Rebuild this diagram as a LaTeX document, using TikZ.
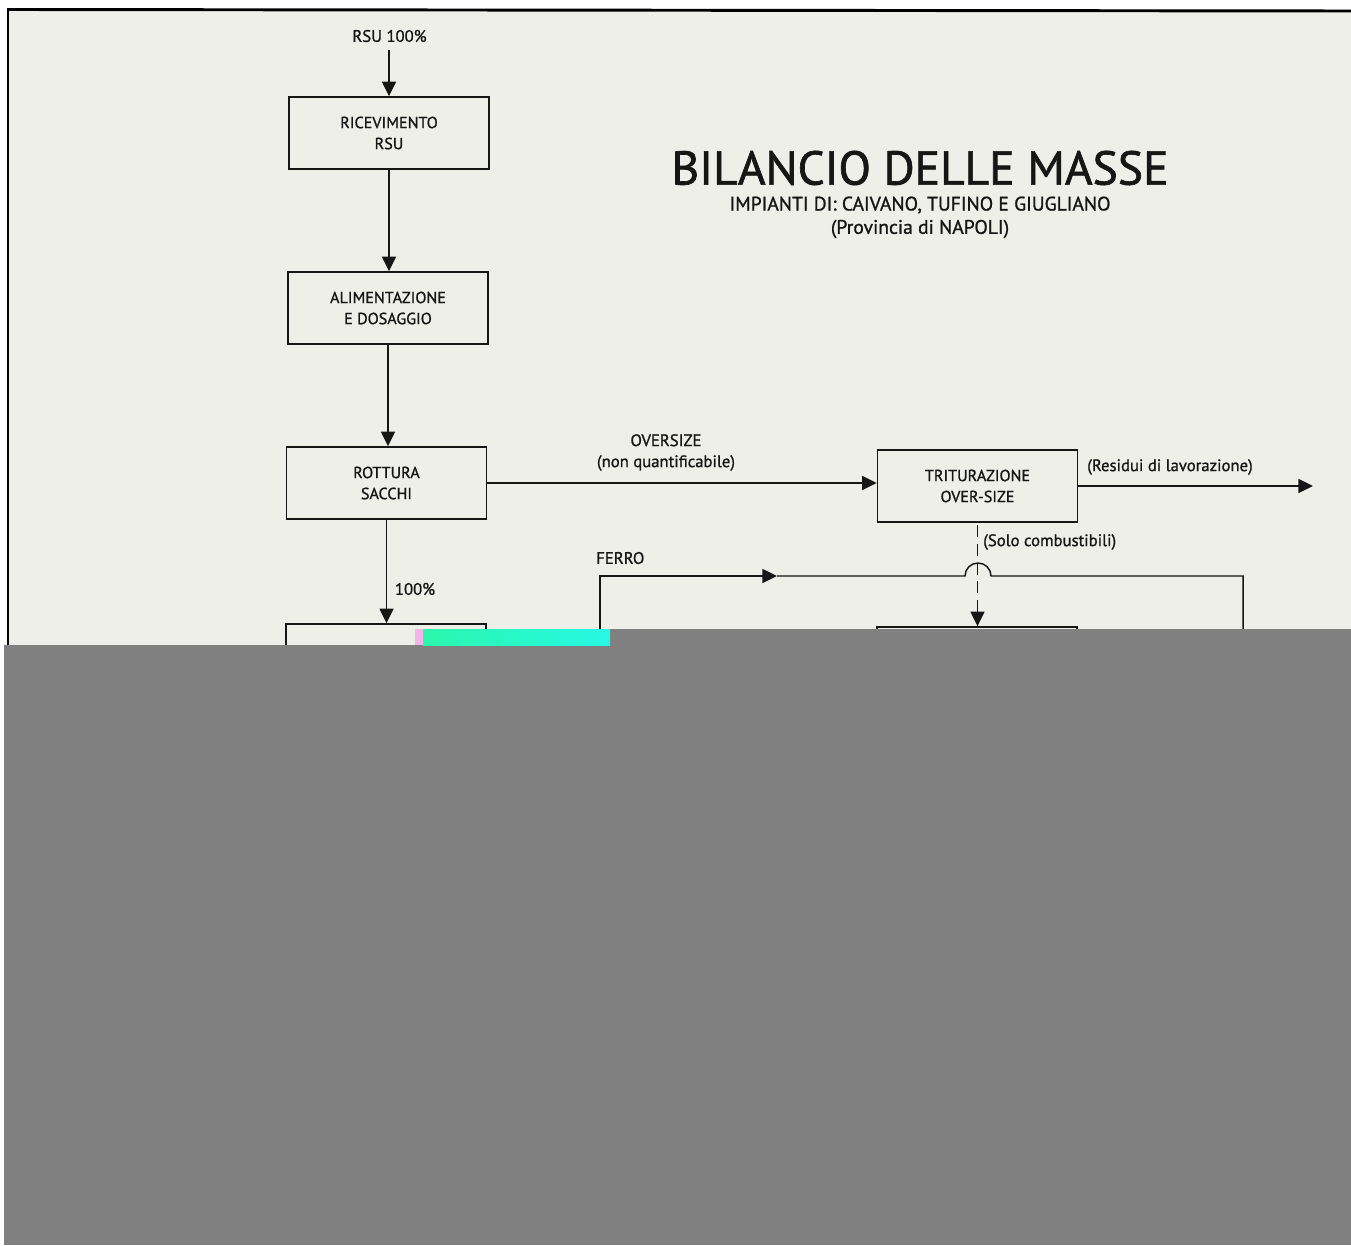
\documentclass[tikz,border=0pt]{standalone}
\usepackage{fontspec}
\setmainfont{PT Sans}
\newfontfamily\fb{PT Sans}[FakeBold=1.1]
\newfontfamily\fbt{PT Sans}[FakeBold=1.4]
\usetikzlibrary{arrows.meta}
\definecolor{paper}{HTML}{EFEFEA}
\definecolor{ink}{HTML}{161616}
\definecolor{mask}{HTML}{808080}
\definecolor{aqua}{HTML}{36F5D8}
\definecolor{pinkish}{HTML}{F4B4E8}
\begin{document}
\begin{tikzpicture}[x=0.75pt,y=-0.75pt,
  every node/.style={text=ink},
  box/.style={draw=ink, line width=1.1pt, minimum width=150pt, minimum height=54pt,
    align=center, inner sep=0pt, font=\fb\fontsize{12.1}{15.75}\selectfont},
  lbl/.style={inner sep=0pt, align=center, font=\fb\fontsize{12.5}{15.75}\selectfont},
  conn/.style={draw=ink, line width=1.1pt},
  arr/.style={conn, -{Triangle[length=11pt,width=10.5pt]}},
]
\useasboundingbox (0,0) rectangle (1351,1245);
% paper
\fill[white] (0,0) rectangle (1351,1245);
\fill[paper] (7,9) rectangle (1351,1245);
\draw[black, line width=2.2pt] (7,9.5) -- (1351,11);
\draw[black, line width=1.8pt] (8,8) -- (8,646);

% title
\node[lbl, font=\fbt\fontsize{35.6}{40}\selectfont] (title) at (920,168) {BILANCIO DELLE MASSE};
\node[lbl, font=\fb\fontsize{14.7}{16}\selectfont] (sub1) at (920,205) {IMPIANTI DI: CAIVANO, TUFINO E GIUGLIANO};
\node[lbl, font=\fb\fontsize{14.7}{16}\selectfont] (sub2) at (920,229) {(Provincia di NAPOLI)};

% nodes
\node[lbl] (in) at (389.5,36) {RSU 100\%};
\node[box] (r1) at (389,133) {RICEVIMENTO\\RSU};
\node[box] (r2) at (388,308) {ALIMENTAZIONE\\E DOSAGGIO};
\node[box] (r3) at (386.5,483) {ROTTURA\\SACCHI};
\node[box] (tr) at (977.5,486) {TRITURAZIONE\\OVER-SIZE};
\node[box] (r4) at (386,660) {};
\node[box] (r5) at (977,663) {};

% labels
\node[lbl] (ovs) at (666,452.5) {OVERSIZE\\(non quantificabile)};
\node[lbl, anchor=west] (res) at (1087,467) {(Residui di lavorazione)};
\node[lbl, anchor=west] (solo) at (983,542) {(Solo combustibili)};
\node[lbl] (cent) at (415,589) {100\%};
\node[lbl, anchor=west] (fer) at (596,558) {FERRO};

% connectors
\draw[arr] (in.south -| r1.north) ++(0,8) -- (r1.north);
\draw[arr] (r1.south) -- (r1.south |- r2.north);
\draw[arr] (r2.south) -- (r2.south |- r3.north);
\draw[arr] (r3.south) -- (r3.south |- r4.north);
\draw[arr] (r3.east) -- (r3.east -| tr.west);
\coordinate (out) at (1313,487);
\draw[arr] (tr.east) -- (tr.east -| out);
\draw[arr, dash pattern=on 9pt off 5pt, dash phase=-2pt] (tr.south) -- (tr.south |- r5.north);

% FERRO loop with hop
\coordinate (f0) at (600,660);
\coordinate (fa) at (777,576);
\coordinate (f1) at (1243,660);
\draw[arr] (f0) |- (fa);
\draw[conn] (fa) -- (965,576) arc[start angle=180, end angle=0, radius=9.75pt] -- (f1 |- fa) -- (f1);

% masking patches
\fill[mask] (4,645) rectangle (1351,1245);
\fill[mask] (610,629) rectangle (1351,646);
\fill[pinkish] (415,629) rectangle (423,645);
\shade[left color=aqua!80!green, right color=aqua!70!cyan] (423,629) rectangle (610,645);
\end{tikzpicture}
\end{document}
